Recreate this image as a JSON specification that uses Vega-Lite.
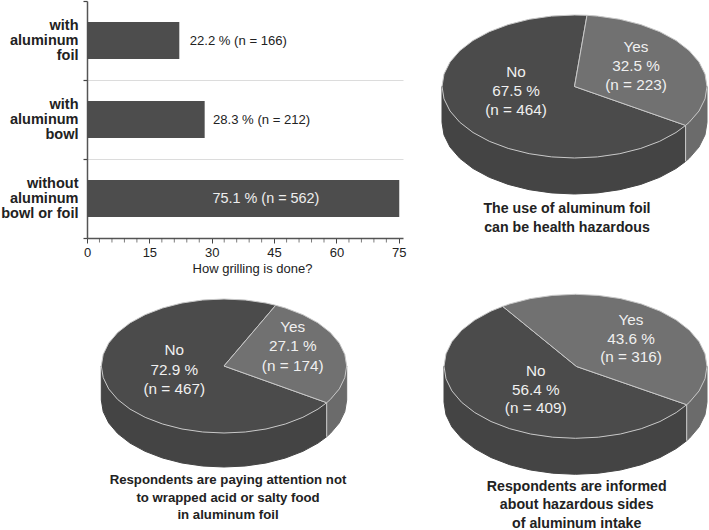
{
"$schema":"https://vega.github.io/schema/vega-lite/v6.json",
"background":"white",
"padding":{"left":0,"top":-7,"right":0,"bottom":0},
"columns":2,
"spacing":0,
"bounds":"flush",
"config":{"view":{"stroke":null},"font":"Liberation Sans"},
"datasets":{
"bars":[
{"method":"with aluminum foil","pct":22.2,"n":166,"labelAt":24.7,"label":"22.2 % (n = 166)"},
{"method":"with aluminum bowl","pct":28.3,"n":212,"labelAt":30.3,"label":"28.3 % (n = 212)"},
{"method":"without aluminum bowl or foil","pct":75.1,"n":562,"labelAt":30.2,"label":"75.1 % (n = 562)"}
],
"minorTicks":[{"at":3},{"at":6},{"at":9},{"at":12},{"at":18},{"at":21},{"at":24},{"at":27},{"at":33},{"at":36},{"at":39},{"at":42},{"at":48},{"at":51},{"at":54},{"at":57},{"at":63},{"at":66},{"at":69},{"at":72}],
"labels":[
{"pie":"A","answer":"No","pct":67.5,"n":464,"px":516,"py":72.3,"label":"No\n67.5 %\n(n = 464)"},
{"pie":"A","answer":"Yes","pct":32.5,"n":223,"px":636,"py":47.3,"label":"Yes\n32.5 %\n(n = 223)"},
{"pie":"B","answer":"No","pct":72.9,"n":467,"px":174.3,"py":350,"label":"No\n72.9 %\n(n = 467)"},
{"pie":"B","answer":"Yes","pct":27.1,"n":174,"px":292.7,"py":326.7,"label":"Yes\n27.1 %\n(n = 174)"},
{"pie":"C","answer":"No","pct":56.4,"n":409,"px":535.7,"py":371,"label":"No\n56.4 %\n(n = 409)"},
{"pie":"C","answer":"Yes","pct":43.6,"n":316,"px":631,"py":320,"label":"Yes\n43.6 %\n(n = 316)"}
],
"captions":[
{"pie":"A","px":567,"py":209,"label":"The use of aluminum foil\ncan be health hazardous"},
{"pie":"B","px":228,"py":480,"label":"Respondents are paying attention not\nto wrapped acid or salty food\nin aluminum foil"},
{"pie":"C","px":576.7,"py":486.7,"label":"Respondents are informed\nabout hazardous sides\nof aluminum intake"}
],
"shapes":[
{"pie":"A","part":"side_yes","x":685.6,"y":125.4},{"pie":"A","part":"side_yes","x":689.2,"y":122.3},{"pie":"A","part":"side_yes","x":699,"y":111},{"pie":"A","part":"side_yes","x":705,"y":98.9},{"pie":"A","part":"side_yes","x":707,"y":86.5},{"pie":"A","part":"side_yes","x":707,"y":122.5},{"pie":"A","part":"side_yes","x":705,"y":134.9},{"pie":"A","part":"side_yes","x":699,"y":147},{"pie":"A","part":"side_yes","x":689.2,"y":158.3},{"pie":"A","part":"side_yes","x":685.6,"y":161.4},
{"pie":"A","part":"side_no","x":685.6,"y":125.4},{"pie":"A","part":"side_no","x":676,"y":132.5},{"pie":"A","part":"side_no","x":659.7,"y":141.3},{"pie":"A","part":"side_no","x":640.8,"y":148.4},{"pie":"A","part":"side_no","x":619.8,"y":153.7},{"pie":"A","part":"side_no","x":597.5,"y":156.9},{"pie":"A","part":"side_no","x":574.5,"y":158},{"pie":"A","part":"side_no","x":551.5,"y":156.9},{"pie":"A","part":"side_no","x":529.2,"y":153.7},{"pie":"A","part":"side_no","x":508.2,"y":148.4},{"pie":"A","part":"side_no","x":489.3,"y":141.3},{"pie":"A","part":"side_no","x":473,"y":132.5},{"pie":"A","part":"side_no","x":459.8,"y":122.3},{"pie":"A","part":"side_no","x":450,"y":111},{"pie":"A","part":"side_no","x":444,"y":98.9},{"pie":"A","part":"side_no","x":442,"y":86.5},{"pie":"A","part":"side_no","x":442,"y":122.5},{"pie":"A","part":"side_no","x":444,"y":134.9},{"pie":"A","part":"side_no","x":450,"y":147},{"pie":"A","part":"side_no","x":459.8,"y":158.3},{"pie":"A","part":"side_no","x":473,"y":168.5},{"pie":"A","part":"side_no","x":489.3,"y":177.3},{"pie":"A","part":"side_no","x":508.2,"y":184.4},{"pie":"A","part":"side_no","x":529.2,"y":189.7},{"pie":"A","part":"side_no","x":551.5,"y":192.9},{"pie":"A","part":"side_no","x":574.5,"y":194},{"pie":"A","part":"side_no","x":597.5,"y":192.9},{"pie":"A","part":"side_no","x":619.8,"y":189.7},{"pie":"A","part":"side_no","x":640.8,"y":184.4},{"pie":"A","part":"side_no","x":659.7,"y":177.3},{"pie":"A","part":"side_no","x":676,"y":168.5},{"pie":"A","part":"side_no","x":685.6,"y":161.4},
{"pie":"A","part":"top_no","x":574.5,"y":86.5},{"pie":"A","part":"top_no","x":685.6,"y":125.4},{"pie":"A","part":"top_no","x":676,"y":132.5},{"pie":"A","part":"top_no","x":659.7,"y":141.3},{"pie":"A","part":"top_no","x":640.8,"y":148.4},{"pie":"A","part":"top_no","x":619.8,"y":153.7},{"pie":"A","part":"top_no","x":597.5,"y":156.9},{"pie":"A","part":"top_no","x":574.5,"y":158},{"pie":"A","part":"top_no","x":551.5,"y":156.9},{"pie":"A","part":"top_no","x":529.2,"y":153.7},{"pie":"A","part":"top_no","x":508.2,"y":148.4},{"pie":"A","part":"top_no","x":489.3,"y":141.3},{"pie":"A","part":"top_no","x":473,"y":132.5},{"pie":"A","part":"top_no","x":459.8,"y":122.3},{"pie":"A","part":"top_no","x":450,"y":111},{"pie":"A","part":"top_no","x":444,"y":98.9},{"pie":"A","part":"top_no","x":442,"y":86.5},{"pie":"A","part":"top_no","x":444,"y":74.1},{"pie":"A","part":"top_no","x":450,"y":62},{"pie":"A","part":"top_no","x":459.8,"y":50.7},{"pie":"A","part":"top_no","x":473,"y":40.5},{"pie":"A","part":"top_no","x":489.3,"y":31.7},{"pie":"A","part":"top_no","x":508.2,"y":24.6},{"pie":"A","part":"top_no","x":529.2,"y":19.3},{"pie":"A","part":"top_no","x":551.5,"y":16.1},{"pie":"A","part":"top_no","x":574.5,"y":15},{"pie":"A","part":"top_no","x":587,"y":15.3},{"pie":"A","part":"top_no","x":574.5,"y":86.5},
{"pie":"A","part":"top_yes","x":574.5,"y":86.5},{"pie":"A","part":"top_yes","x":587,"y":15.3},{"pie":"A","part":"top_yes","x":597.5,"y":16.1},{"pie":"A","part":"top_yes","x":619.8,"y":19.3},{"pie":"A","part":"top_yes","x":640.8,"y":24.6},{"pie":"A","part":"top_yes","x":659.7,"y":31.7},{"pie":"A","part":"top_yes","x":676,"y":40.5},{"pie":"A","part":"top_yes","x":689.2,"y":50.7},{"pie":"A","part":"top_yes","x":699,"y":62},{"pie":"A","part":"top_yes","x":705,"y":74.1},{"pie":"A","part":"top_yes","x":707,"y":86.5},{"pie":"A","part":"top_yes","x":705,"y":98.9},{"pie":"A","part":"top_yes","x":699,"y":111},{"pie":"A","part":"top_yes","x":689.2,"y":122.3},{"pie":"A","part":"top_yes","x":685.6,"y":125.4},{"pie":"A","part":"top_yes","x":574.5,"y":86.5},
{"pie":"A","part":"edge","x":685.6,"y":125.4},{"pie":"A","part":"edge","x":685.6,"y":161.4},

{"pie":"B","part":"side_yes","x":326.7,"y":402.7},{"pie":"B","part":"side_yes","x":330.3,"y":399.5},{"pie":"B","part":"side_yes","x":339.3,"y":388.9},{"pie":"B","part":"side_yes","x":344.8,"y":377.6},{"pie":"B","part":"side_yes","x":346.7,"y":366},{"pie":"B","part":"side_yes","x":346.7,"y":400},{"pie":"B","part":"side_yes","x":344.8,"y":411.6},{"pie":"B","part":"side_yes","x":339.3,"y":422.9},{"pie":"B","part":"side_yes","x":330.3,"y":433.5},{"pie":"B","part":"side_yes","x":326.7,"y":436.7},
{"pie":"B","part":"side_no","x":326.7,"y":402.7},{"pie":"B","part":"side_no","x":318,"y":409.1},{"pie":"B","part":"side_no","x":302.9,"y":417.3},{"pie":"B","part":"side_no","x":285.4,"y":424},{"pie":"B","part":"side_no","x":266,"y":429},{"pie":"B","part":"side_no","x":245.3,"y":432},{"pie":"B","part":"side_no","x":224,"y":433},{"pie":"B","part":"side_no","x":202.7,"y":432},{"pie":"B","part":"side_no","x":182,"y":429},{"pie":"B","part":"side_no","x":162.6,"y":424},{"pie":"B","part":"side_no","x":145.1,"y":417.3},{"pie":"B","part":"side_no","x":130,"y":409.1},{"pie":"B","part":"side_no","x":117.7,"y":399.5},{"pie":"B","part":"side_no","x":108.7,"y":388.9},{"pie":"B","part":"side_no","x":103.2,"y":377.6},{"pie":"B","part":"side_no","x":101.3,"y":366},{"pie":"B","part":"side_no","x":101.3,"y":400},{"pie":"B","part":"side_no","x":103.2,"y":411.6},{"pie":"B","part":"side_no","x":108.7,"y":422.9},{"pie":"B","part":"side_no","x":117.7,"y":433.5},{"pie":"B","part":"side_no","x":130,"y":443.1},{"pie":"B","part":"side_no","x":145.1,"y":451.3},{"pie":"B","part":"side_no","x":162.6,"y":458},{"pie":"B","part":"side_no","x":182,"y":463},{"pie":"B","part":"side_no","x":202.7,"y":466},{"pie":"B","part":"side_no","x":224,"y":467},{"pie":"B","part":"side_no","x":245.3,"y":466},{"pie":"B","part":"side_no","x":266,"y":463},{"pie":"B","part":"side_no","x":285.4,"y":458},{"pie":"B","part":"side_no","x":302.9,"y":451.3},{"pie":"B","part":"side_no","x":318,"y":443.1},{"pie":"B","part":"side_no","x":326.7,"y":436.7},
{"pie":"B","part":"top_no","x":224,"y":366},{"pie":"B","part":"top_no","x":326.7,"y":402.7},{"pie":"B","part":"top_no","x":318,"y":409.1},{"pie":"B","part":"top_no","x":302.9,"y":417.3},{"pie":"B","part":"top_no","x":285.4,"y":424},{"pie":"B","part":"top_no","x":266,"y":429},{"pie":"B","part":"top_no","x":245.3,"y":432},{"pie":"B","part":"top_no","x":224,"y":433},{"pie":"B","part":"top_no","x":202.7,"y":432},{"pie":"B","part":"top_no","x":182,"y":429},{"pie":"B","part":"top_no","x":162.6,"y":424},{"pie":"B","part":"top_no","x":145.1,"y":417.3},{"pie":"B","part":"top_no","x":130,"y":409.1},{"pie":"B","part":"top_no","x":117.7,"y":399.5},{"pie":"B","part":"top_no","x":108.7,"y":388.9},{"pie":"B","part":"top_no","x":103.2,"y":377.6},{"pie":"B","part":"top_no","x":101.3,"y":366},{"pie":"B","part":"top_no","x":103.2,"y":354.4},{"pie":"B","part":"top_no","x":108.7,"y":343.1},{"pie":"B","part":"top_no","x":117.7,"y":332.5},{"pie":"B","part":"top_no","x":130,"y":322.9},{"pie":"B","part":"top_no","x":145.1,"y":314.7},{"pie":"B","part":"top_no","x":162.6,"y":308},{"pie":"B","part":"top_no","x":182,"y":303},{"pie":"B","part":"top_no","x":202.7,"y":300},{"pie":"B","part":"top_no","x":224,"y":299},{"pie":"B","part":"top_no","x":245.3,"y":300},{"pie":"B","part":"top_no","x":266,"y":303},{"pie":"B","part":"top_no","x":275.7,"y":305.3},{"pie":"B","part":"top_no","x":224,"y":366},
{"pie":"B","part":"top_yes","x":224,"y":366},{"pie":"B","part":"top_yes","x":275.7,"y":305.3},{"pie":"B","part":"top_yes","x":285.4,"y":308},{"pie":"B","part":"top_yes","x":302.9,"y":314.7},{"pie":"B","part":"top_yes","x":318,"y":322.9},{"pie":"B","part":"top_yes","x":330.3,"y":332.5},{"pie":"B","part":"top_yes","x":339.3,"y":343.1},{"pie":"B","part":"top_yes","x":344.8,"y":354.4},{"pie":"B","part":"top_yes","x":346.7,"y":366},{"pie":"B","part":"top_yes","x":344.8,"y":377.6},{"pie":"B","part":"top_yes","x":339.3,"y":388.9},{"pie":"B","part":"top_yes","x":330.3,"y":399.5},{"pie":"B","part":"top_yes","x":326.7,"y":402.7},{"pie":"B","part":"top_yes","x":224,"y":366},
{"pie":"B","part":"edge","x":326.7,"y":402.7},{"pie":"B","part":"edge","x":326.7,"y":436.7},

{"pie":"C","part":"side_yes","x":686.7,"y":404.7},{"pie":"C","part":"side_yes","x":689.4,"y":402.3},{"pie":"C","part":"side_yes","x":699.1,"y":390.9},{"pie":"C","part":"side_yes","x":705,"y":378.8},{"pie":"C","part":"side_yes","x":707,"y":366.3},{"pie":"C","part":"side_yes","x":707,"y":402.3},{"pie":"C","part":"side_yes","x":705,"y":414.8},{"pie":"C","part":"side_yes","x":699.1,"y":426.9},{"pie":"C","part":"side_yes","x":689.4,"y":438.3},{"pie":"C","part":"side_yes","x":686.7,"y":440.7},
{"pie":"C","part":"side_no","x":686.7,"y":404.7},{"pie":"C","part":"side_no","x":676.2,"y":412.6},{"pie":"C","part":"side_no","x":660,"y":421.5},{"pie":"C","part":"side_no","x":641.3,"y":428.7},{"pie":"C","part":"side_no","x":620.5,"y":434},{"pie":"C","part":"side_no","x":598.3,"y":437.2},{"pie":"C","part":"side_no","x":575.5,"y":438.3},{"pie":"C","part":"side_no","x":552.7,"y":437.2},{"pie":"C","part":"side_no","x":530.5,"y":434},{"pie":"C","part":"side_no","x":509.7,"y":428.7},{"pie":"C","part":"side_no","x":491,"y":421.5},{"pie":"C","part":"side_no","x":474.8,"y":412.6},{"pie":"C","part":"side_no","x":461.6,"y":402.3},{"pie":"C","part":"side_no","x":451.9,"y":390.9},{"pie":"C","part":"side_no","x":446,"y":378.8},{"pie":"C","part":"side_no","x":444,"y":366.3},{"pie":"C","part":"side_no","x":444,"y":402.3},{"pie":"C","part":"side_no","x":446,"y":414.8},{"pie":"C","part":"side_no","x":451.9,"y":426.9},{"pie":"C","part":"side_no","x":461.6,"y":438.3},{"pie":"C","part":"side_no","x":474.8,"y":448.6},{"pie":"C","part":"side_no","x":491,"y":457.5},{"pie":"C","part":"side_no","x":509.7,"y":464.7},{"pie":"C","part":"side_no","x":530.5,"y":470},{"pie":"C","part":"side_no","x":552.7,"y":473.2},{"pie":"C","part":"side_no","x":575.5,"y":474.3},{"pie":"C","part":"side_no","x":598.3,"y":473.2},{"pie":"C","part":"side_no","x":620.5,"y":470},{"pie":"C","part":"side_no","x":641.3,"y":464.7},{"pie":"C","part":"side_no","x":660,"y":457.5},{"pie":"C","part":"side_no","x":676.2,"y":448.6},{"pie":"C","part":"side_no","x":686.7,"y":440.7},
{"pie":"C","part":"top_no","x":576.5,"y":366.5},{"pie":"C","part":"top_no","x":686.7,"y":404.7},{"pie":"C","part":"top_no","x":676.2,"y":412.6},{"pie":"C","part":"top_no","x":660,"y":421.5},{"pie":"C","part":"top_no","x":641.3,"y":428.7},{"pie":"C","part":"top_no","x":620.5,"y":434},{"pie":"C","part":"top_no","x":598.3,"y":437.2},{"pie":"C","part":"top_no","x":575.5,"y":438.3},{"pie":"C","part":"top_no","x":552.7,"y":437.2},{"pie":"C","part":"top_no","x":530.5,"y":434},{"pie":"C","part":"top_no","x":509.7,"y":428.7},{"pie":"C","part":"top_no","x":491,"y":421.5},{"pie":"C","part":"top_no","x":474.8,"y":412.6},{"pie":"C","part":"top_no","x":461.6,"y":402.3},{"pie":"C","part":"top_no","x":451.9,"y":390.9},{"pie":"C","part":"top_no","x":446,"y":378.8},{"pie":"C","part":"top_no","x":444,"y":366.3},{"pie":"C","part":"top_no","x":446,"y":353.8},{"pie":"C","part":"top_no","x":451.9,"y":341.7},{"pie":"C","part":"top_no","x":461.6,"y":330.3},{"pie":"C","part":"top_no","x":474.8,"y":320},{"pie":"C","part":"top_no","x":491,"y":311.1},{"pie":"C","part":"top_no","x":502.7,"y":306.4},{"pie":"C","part":"top_no","x":576.5,"y":366.5},
{"pie":"C","part":"top_yes","x":576.5,"y":366.5},{"pie":"C","part":"top_yes","x":502.7,"y":306.4},{"pie":"C","part":"top_yes","x":509.7,"y":303.9},{"pie":"C","part":"top_yes","x":530.5,"y":298.6},{"pie":"C","part":"top_yes","x":552.7,"y":295.4},{"pie":"C","part":"top_yes","x":575.5,"y":294.3},{"pie":"C","part":"top_yes","x":598.3,"y":295.4},{"pie":"C","part":"top_yes","x":620.5,"y":298.6},{"pie":"C","part":"top_yes","x":641.3,"y":303.9},{"pie":"C","part":"top_yes","x":660,"y":311.1},{"pie":"C","part":"top_yes","x":676.2,"y":320},{"pie":"C","part":"top_yes","x":689.4,"y":330.3},{"pie":"C","part":"top_yes","x":699.1,"y":341.7},{"pie":"C","part":"top_yes","x":705,"y":353.8},{"pie":"C","part":"top_yes","x":707,"y":366.3},{"pie":"C","part":"top_yes","x":705,"y":378.8},{"pie":"C","part":"top_yes","x":699.1,"y":390.9},{"pie":"C","part":"top_yes","x":689.4,"y":402.3},{"pie":"C","part":"top_yes","x":686.7,"y":404.7},{"pie":"C","part":"top_yes","x":576.5,"y":366.5},
{"pie":"C","part":"edge","x":686.7,"y":404.7},{"pie":"C","part":"edge","x":686.7,"y":440.7}
]
},
"concat":[
{
"width":316,"height":237,
"data":{"name":"bars"},
"layer":[
{"mark":{"type":"bar","color":"#4d4d4d","height":{"band":0.467}},
"encoding":{
"y":{"field":"method","type":"nominal","sort":["with aluminum foil","with aluminum bowl","without aluminum bowl or foil"],"title":null,
"scale":{"paddingInner":0,"paddingOuter":0},
"axis":{"tickBand":"extent","grid":true,"gridColor":{"condition":{"test":"datum.value==='with aluminum foil'||datum.value==='with aluminum bowl'","value":"#dcdcdc"},"value":"#ffffff"},"domainColor":"#555555","domainWidth":1.5,"tickColor":"#444444","tickSize":4,"tickWidth":1.2,"labelPadding":5,"labelFontSize":14.5,"labelFontWeight":"bold","labelColor":"#222222","labelLineHeight":15.3,"labelAlign":"right","labelBaseline":"middle","labelOverlap":false,"labelOffset":-15.3,
"labelExpr":"datum.label=='with aluminum foil'?['with','aluminum','foil']:datum.label=='with aluminum bowl'?['with','aluminum','bowl']:datum.label=='without aluminum bowl or foil'?['without','aluminum','bowl or foil']:''"}},
"x":{"field":"pct","type":"quantitative","title":"How grilling is done?","scale":{"domain":[0,76],"nice":false},
"axis":{"values":[0,15,30,45,60,75],"grid":false,"domainColor":"#555555","domainWidth":1.5,"tickColor":"#444444","tickWidth":1,"tickSize":5,
"labelFlush":false,"labelFontSize":13,"labelFontWeight":"normal","labelColor":"#222222","labelPadding":3,
"titleFontSize":13,"titleFontWeight":"normal","titleColor":"#222222","titlePadding":3,"titleX":165}}
}},
{"mark":{"type":"text","align":"left","baseline":"middle"},
"encoding":{
"y":{"field":"method","type":"nominal","sort":["with aluminum foil","with aluminum bowl","without aluminum bowl or foil"]},
"x":{"field":"labelAt","type":"quantitative"},
"text":{"field":"label"},
"size":{"condition":{"test":"datum.pct>50","value":14.4},"value":13.1},
"color":{"condition":{"test":"datum.pct>50","value":"#eeeeee"},"value":"#222222"}
}},
{"data":{"name":"minorTicks"},
"mark":{"type":"tick","orient":"vertical","color":"#444444","thickness":1,"size":4,"yOffset":121},
"encoding":{"x":{"field":"at","type":"quantitative"}}}
]
},
{
"width":279,"height":237,
"data":{"name":"shapes"},
"layer":[
{"transform":[{"filter":"datum.pie==='A'"}],
"mark":{"type":"line","strokeWidth":1},
"encoding":{
"x":{"field":"x","type":"quantitative","scale":{"domain":[430,709],"nice":false,"zero":false},"axis":null},
"y":{"field":"y","type":"quantitative","scale":{"domain":[238,1],"nice":false,"zero":false},"axis":null},
"order":{"value":null},
"fill":{"field":"part","type":"nominal","legend":null,"scale":{"domain":["side_no","side_yes","top_no","top_yes","edge"],"range":["#444444","#6b6b6b","#4b4b4b","#717171","#cccccc"]}},
"stroke":{"field":"part","type":"nominal","legend":null,"scale":{"domain":["side_no","side_yes","top_no","top_yes","edge"],"range":["#444444","#6b6b6b","#c8c8c8","#c8c8c8","#cccccc"]}}
}},
{"data":{"name":"labels"},"transform":[{"filter":"datum.pie==='A'"}],
"mark":{"type":"text","lineBreak":"\n","lineHeight":18.7,"fontSize":15.3,"color":"#f0f0f0","baseline":"middle"},
"encoding":{"x":{"field":"px","type":"quantitative"},"y":{"field":"py","type":"quantitative"},"text":{"field":"label"}}},
{"data":{"name":"captions"},"transform":[{"filter":"datum.pie==='A'"}],
"mark":{"type":"text","lineBreak":"\n","lineHeight":18.6,"fontSize":14.2,"fontWeight":"bold","color":"#222222","baseline":"middle"},
"encoding":{"x":{"field":"px","type":"quantitative"},"y":{"field":"py","type":"quantitative"},"text":{"field":"label"}}}
]
},
{
"width":343,"height":292,
"data":{"name":"shapes"},
"layer":[
{"transform":[{"filter":"datum.pie==='B'"}],
"mark":{"type":"line","strokeWidth":1},
"encoding":{
"x":{"field":"x","type":"quantitative","scale":{"domain":[87,430],"nice":false,"zero":false},"axis":null},
"y":{"field":"y","type":"quantitative","scale":{"domain":[530,238],"nice":false,"zero":false},"axis":null},
"order":{"value":null},
"fill":{"field":"part","type":"nominal","legend":null,"scale":{"domain":["side_no","side_yes","top_no","top_yes","edge"],"range":["#444444","#6b6b6b","#4b4b4b","#717171","#cccccc"]}},
"stroke":{"field":"part","type":"nominal","legend":null,"scale":{"domain":["side_no","side_yes","top_no","top_yes","edge"],"range":["#444444","#6b6b6b","#c8c8c8","#c8c8c8","#cccccc"]}}
}},
{"data":{"name":"labels"},"transform":[{"filter":"datum.pie==='B'"}],
"mark":{"type":"text","lineBreak":"\n","lineHeight":19.5,"fontSize":15.3,"color":"#f0f0f0","baseline":"middle"},
"encoding":{"x":{"field":"px","type":"quantitative"},"y":{"field":"py","type":"quantitative"},"text":{"field":"label"}}},
{"data":{"name":"captions"},"transform":[{"filter":"datum.pie==='B'"}],
"mark":{"type":"text","lineBreak":"\n","lineHeight":17.5,"fontSize":13.2,"fontWeight":"bold","color":"#222222","baseline":"middle"},
"encoding":{"x":{"field":"px","type":"quantitative"},"y":{"field":"py","type":"quantitative"},"text":{"field":"label"}}}
]
},
{
"width":279,"height":292,
"data":{"name":"shapes"},
"layer":[
{"transform":[{"filter":"datum.pie==='C'"}],
"mark":{"type":"line","strokeWidth":1},
"encoding":{
"x":{"field":"x","type":"quantitative","scale":{"domain":[430,709],"nice":false,"zero":false},"axis":null},
"y":{"field":"y","type":"quantitative","scale":{"domain":[530,238],"nice":false,"zero":false},"axis":null},
"order":{"value":null},
"fill":{"field":"part","type":"nominal","legend":null,"scale":{"domain":["side_no","side_yes","top_no","top_yes","edge"],"range":["#444444","#6b6b6b","#4b4b4b","#717171","#cccccc"]}},
"stroke":{"field":"part","type":"nominal","legend":null,"scale":{"domain":["side_no","side_yes","top_no","top_yes","edge"],"range":["#444444","#6b6b6b","#c8c8c8","#c8c8c8","#cccccc"]}}
}},
{"data":{"name":"labels"},"transform":[{"filter":"datum.pie==='C'"}],
"mark":{"type":"text","lineBreak":"\n","lineHeight":18.7,"fontSize":15.3,"color":"#f0f0f0","baseline":"middle"},
"encoding":{"x":{"field":"px","type":"quantitative"},"y":{"field":"py","type":"quantitative"},"text":{"field":"label"}}},
{"data":{"name":"captions"},"transform":[{"filter":"datum.pie==='C'"}],
"mark":{"type":"text","lineBreak":"\n","lineHeight":18.8,"fontSize":14.2,"fontWeight":"bold","color":"#222222","baseline":"middle"},
"encoding":{"x":{"field":"px","type":"quantitative"},"y":{"field":"py","type":"quantitative"},"text":{"field":"label"}}}
]
}
]
}
